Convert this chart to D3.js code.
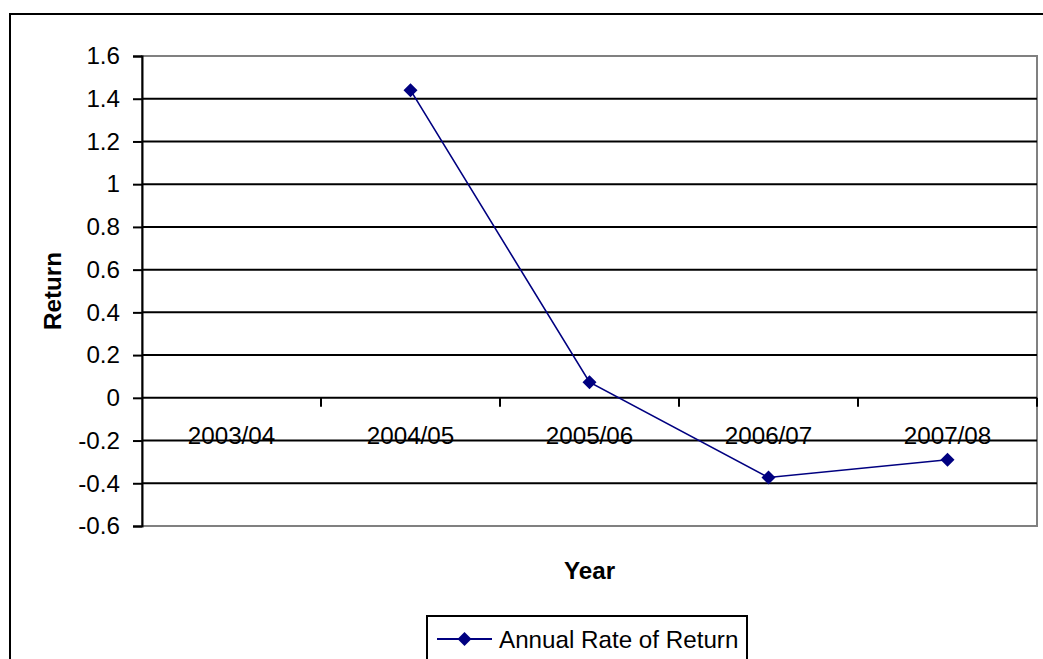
<!DOCTYPE html>
<html>
<head>
<meta charset="utf-8">
<script src="https://cdn.jsdelivr.net/npm/d3@7"></script>
<style>
  html, body { margin: 0; padding: 0; background: #fff; }
  svg { display: block; font-family: "Liberation Sans", Arial, sans-serif; }
</style>
</head>
<body>
<svg id="chart" width="1043" height="659"></svg>
<script>
// Annual rate of return by financial year
const years = ["2003/04", "2004/05", "2005/06", "2006/07", "2007/08"];
const returns = [null, 1.44, 0.073, -0.373, -0.29];
const yTicks = [-0.6, -0.4, -0.2, 0, 0.2, 0.4, 0.6, 0.8, 1, 1.2, 1.4, 1.6];
const seriesName = "Annual Rate of Return";
const xTitle = "Year";
const yTitle = "Return";

const svg = d3.select("#chart");
const W = 1043, H = 659;
const plot = { left: 142, right: 1037, top: 56, bottom: 526 };
const fontSize = 24.2;
const lineColor = "#000080";

// Chart frame
svg.append("rect")
  .attr("x", 10).attr("y", 14)
  .attr("width", W + 20).attr("height", H + 20)
  .attr("fill", "#fff").attr("stroke", "#000").attr("stroke-width", 2);

const x = d3.scaleBand().domain(years).range([plot.left, plot.right]).padding(0);
const y = d3.scaleLinear().domain([-0.6, 1.6]).range([plot.bottom, plot.top]);

// Plot area border (grey)
svg.append("rect")
  .attr("x", plot.left).attr("y", plot.top)
  .attr("width", plot.right - plot.left).attr("height", plot.bottom - plot.top)
  .attr("fill", "none").attr("stroke", "#808080").attr("stroke-width", 2);

// Horizontal gridlines
svg.append("g")
  .selectAll("line")
  .data(yTicks.filter(t => t > -0.6 && t < 1.6 && t !== 0))
  .join("line")
  .attr("x1", plot.left).attr("x2", plot.right)
  .attr("y1", d => y(d)).attr("y2", d => y(d))
  .attr("stroke", "#000").attr("stroke-width", 2);

// Y axis (plain hyphen for negatives)
const yAxis = d3.axisLeft(y).tickValues(yTicks).tickSize(9).tickPadding(13)
  .tickFormat(d => String(+d.toFixed(1)));
const gy = svg.append("g").attr("transform", `translate(${plot.left},0)`).call(yAxis);
gy.select(".domain").attr("stroke", "#000").attr("stroke-width", 2);
gy.selectAll(".tick line").attr("stroke", "#000").attr("stroke-width", 2);
gy.selectAll(".tick text")
  .attr("font-size", fontSize).attr("fill", "#000")
  .attr("font-family", '"Liberation Sans", Arial, sans-serif');

// X axis along zero, ticks at category boundaries
const y0 = y(0);
svg.append("line")
  .attr("x1", plot.left).attr("x2", plot.right)
  .attr("y1", y0).attr("y2", y0)
  .attr("stroke", "#000").attr("stroke-width", 2);
const bounds = years.map(d => x(d)).concat([x(years[years.length - 1]) + x.bandwidth()]);
svg.append("g").selectAll("line")
  .data(bounds.slice(1))
  .join("line")
  .attr("x1", d => d).attr("x2", d => d)
  .attr("y1", y0).attr("y2", y0 + 9)
  .attr("stroke", "#000").attr("stroke-width", 2);

svg.append("g").selectAll("text")
  .data(years)
  .join("text")
  .attr("x", d => x(d) + x.bandwidth() / 2)
  .attr("y", y0 + 46)
  .attr("text-anchor", "middle")
  .attr("font-size", fontSize)
  .text(d => d);

// Series line and diamond markers
const pts = years.map((d, i) => ({ year: d, v: returns[i] })).filter(p => p.v !== null);
const cx = d => x(d.year) + x.bandwidth() / 2;
svg.append("path")
  .datum(pts)
  .attr("fill", "none").attr("stroke", lineColor).attr("stroke-width", 1.6)
  .attr("d", d3.line().x(cx).y(d => y(d.v)));

const r = 7;
const diamond = `M0,${-r}L${r},0L0,${r}L${-r},0Z`;
svg.append("g").selectAll("path")
  .data(pts)
  .join("path")
  .attr("transform", d => `translate(${cx(d)},${y(d.v)})`)
  .attr("d", diamond)
  .attr("fill", lineColor);

// Axis titles
svg.append("text")
  .attr("x", (plot.left + plot.right) / 2).attr("y", 579)
  .attr("text-anchor", "middle").attr("font-weight", "bold")
  .attr("font-size", fontSize).text(xTitle);

svg.append("text")
  .attr("transform", `translate(61,${(plot.top + plot.bottom) / 2}) rotate(-90)`)
  .attr("text-anchor", "middle").attr("font-weight", "bold")
  .attr("font-size", fontSize).text(yTitle);

// Legend
const lg = svg.append("g");
lg.append("rect")
  .attr("x", 427).attr("y", 616).attr("width", 320).attr("height", 60)
  .attr("fill", "#fff").attr("stroke", "#000").attr("stroke-width", 2);
lg.append("line")
  .attr("x1", 437).attr("x2", 492).attr("y1", 639).attr("y2", 639)
  .attr("stroke", lineColor).attr("stroke-width", 2);
lg.append("path")
  .attr("transform", "translate(464.5,639)")
  .attr("d", diamond).attr("fill", lineColor);
lg.append("text")
  .attr("x", 499).attr("y", 647.5)
  .attr("font-size", fontSize).text(seriesName);
</script>
</body>
</html>
